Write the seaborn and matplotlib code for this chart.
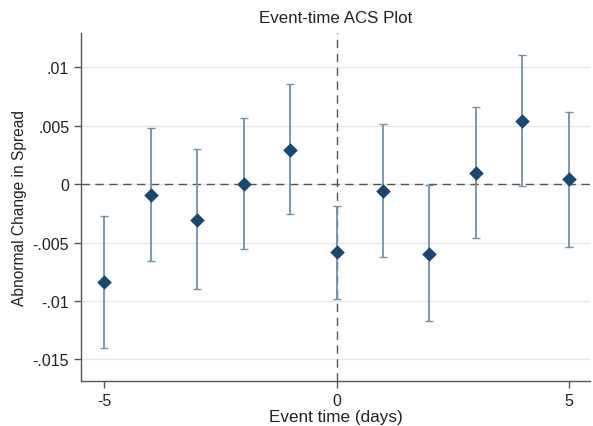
import numpy as np
import pandas as pd
import seaborn as sns
import matplotlib
matplotlib.use("Agg")
import matplotlib.pyplot as plt

event_time = [-5, -4, -3, -2, -1, 0, 1, 2, 3, 4, 5]
estimate = [-0.0084, -0.00095, -0.00305, 0.0, 0.00293, -0.00584, -0.0006, -0.0060, 0.00094, 0.00538, 0.00043]
ci_upper = [-0.0027, 0.0048, 0.00297, 0.00564, 0.00857, -0.00185, 0.00513, -0.0001, 0.00655, 0.01103, 0.00618]
ci_lower = [-0.0140, -0.0066, -0.0090, -0.00558, -0.0026, -0.00983, -0.00624, -0.01174, -0.00464, -0.0002, -0.00536]
y_ticks = [0.01, 0.005, 0, -0.005, -0.01, -0.015]
y_tick_labels = [".01", ".005", "0", "-.005", "-.01", "-.015"]
x_ticks = [-5, 0, 5]

df = pd.DataFrame({"t": event_time, "est": estimate, "lo": ci_lower, "hi": ci_upper})

sns.set_style("white")
plt.rcParams['font.family'] = ['Liberation Sans', 'DejaVu Sans']

fig = plt.figure(figsize=(5.93, 4.27), dpi=100)
ax = fig.add_axes([0.1366, 0.1054, 0.858, 0.8146])

for yt in y_ticks:
    ax.axhline(yt, color="#e6e9ec", lw=1.0, zorder=0)

ax.axhline(0, color="#555555", lw=1.0, ls=(0, (6, 4)), zorder=1)
ax.axvline(0, color="#555555", lw=1.0, ls=(0, (6, 4)), zorder=1)

ax.errorbar(df["t"], df["est"],
            yerr=[df["est"] - df["lo"], df["hi"] - df["est"]],
            fmt="none", ecolor="#7390a8", elinewidth=1.3, capsize=3, capthick=1.0, zorder=2)
sns.scatterplot(data=df, x="t", y="est", marker="D", s=55, color="#1a476f",
                edgecolor="#1a476f", linewidth=0, ax=ax, zorder=3)

ax.set_xlim(-5.5, 5.45)
ax.set_ylim(-0.01684, 0.0129)
ax.set_yticks(y_ticks)
ax.set_yticklabels(y_tick_labels)
ax.set_xticks(x_ticks)
ax.set_xticklabels([str(v) for v in x_ticks])
ax.tick_params(axis="both", direction="out", length=5, width=1, color="#555555",
               labelsize=11.5, labelcolor="#222222", left=True, bottom=True)
for s in ["top", "right"]:
    ax.spines[s].set_visible(False)
for s in ["left", "bottom"]:
    ax.spines[s].set_color("#555555")
    ax.spines[s].set_linewidth(1.0)

ax.set_xlabel("Event time (days)", fontsize=12.3, color="#222222", labelpad=1)
ax.set_ylabel("Abnormal Change in Spread", fontsize=11.2, color="#222222", labelpad=4)
ax.set_title("Event-time ACS Plot", fontsize=12.2, color="#222222", pad=8)

fig.savefig("out.png", dpi=100)
